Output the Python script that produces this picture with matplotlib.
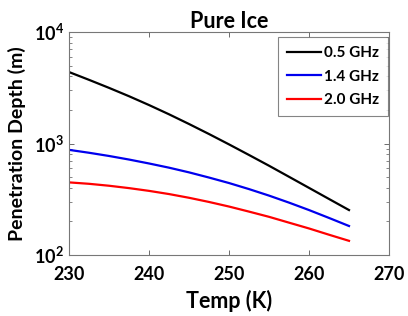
import matplotlib
matplotlib.use("Agg")
import matplotlib.pyplot as plt
from matplotlib.ticker import LogLocator, FixedLocator, NullFormatter

temps = [230, 232.5, 235, 237.5, 240, 242.5, 245, 247.5, 250, 252.5, 255, 257.5, 260, 262.5, 265]
depth_05 = [4375, 3724, 3155, 2655, 2213, 1828, 1496, 1216, 982, 789, 632, 503, 400, 318, 253]
depth_14 = [877, 826, 773, 718, 662, 607, 551, 495, 442, 390, 341, 295, 253, 215, 182]
depth_20 = [448, 435, 418, 398, 376, 352, 326, 299, 272, 245, 220, 195, 173, 152, 134]
labels = ["0.5 GHz", "1.4 GHz", "2.0 GHz"]
colors = ["#000000", "#0000ee", "#ff0000"]
xticks = [230, 240, 250, 260, 270]
yticks = [100, 1000, 10000]
yticklabels = ["$10^{2}$", "$10^{3}$", "$10^{4}$"]

fam = "Lato"
plt.rcParams["font.family"] = [fam, "DejaVu Sans"]
plt.rcParams["font.weight"] = "bold"
plt.rcParams["mathtext.fontset"] = "custom"
plt.rcParams["mathtext.rm"] = f"{fam}:bold"
plt.rcParams["mathtext.it"] = f"{fam}:bold"
plt.rcParams["mathtext.bf"] = f"{fam}:bold"
plt.rcParams["mathtext.default"] = "rm"

fig = plt.figure(figsize=(4.08, 3.16), dpi=100)
ax = fig.add_axes([69/408, 1-255/316, (389-69)/408, (255-32)/316])

for ys, lab, c in zip([depth_05, depth_14, depth_20], labels, colors):
    ax.plot(temps, ys, color=c, lw=1.6, label=lab)

ax.set_yscale("log")
ax.set_xlim(230, 270)
ax.set_ylim(100, 10000)
ax.xaxis.set_major_locator(FixedLocator(xticks))
ax.set_xticklabels([str(t) for t in xticks], fontsize=13, fontweight="bold")
ax.yaxis.set_major_locator(FixedLocator(yticks))
ax.set_yticklabels(yticklabels, fontsize=13)
ax.yaxis.set_minor_locator(LogLocator(base=10, subs=range(2, 10)))
ax.yaxis.set_minor_formatter(NullFormatter())

ax.tick_params(which="both", direction="in", top=True, right=True, color="#555555")
ax.tick_params(axis="x", which="major", pad=8)
ax.tick_params(which="major", length=3.5, width=0.6)
ax.tick_params(which="minor", length=2, width=0.5)
for s in ax.spines.values():
    s.set_color("#777777")
    s.set_linewidth(0.8)

ax.set_title("Pure Ice", fontsize=15.5, fontweight="bold", pad=1)
ax.set_xlabel("Temp (K)", fontsize=15.5, fontweight="bold", labelpad=5)
ax.set_ylabel("Penetration Depth (m)", fontsize=14, fontweight="bold", labelpad=6)

leg = ax.legend(loc="upper right", bbox_to_anchor=(0.997, 0.978), frameon=True,
                fancybox=False, edgecolor="#666666", handlelength=2.2,
                handletextpad=0.2, borderpad=0.6, labelspacing=0.62,
                borderaxespad=0.0, prop={"weight": "bold", "size": 11})
leg.get_frame().set_linewidth(0.8)

fig.savefig("out.png", dpi=100)
